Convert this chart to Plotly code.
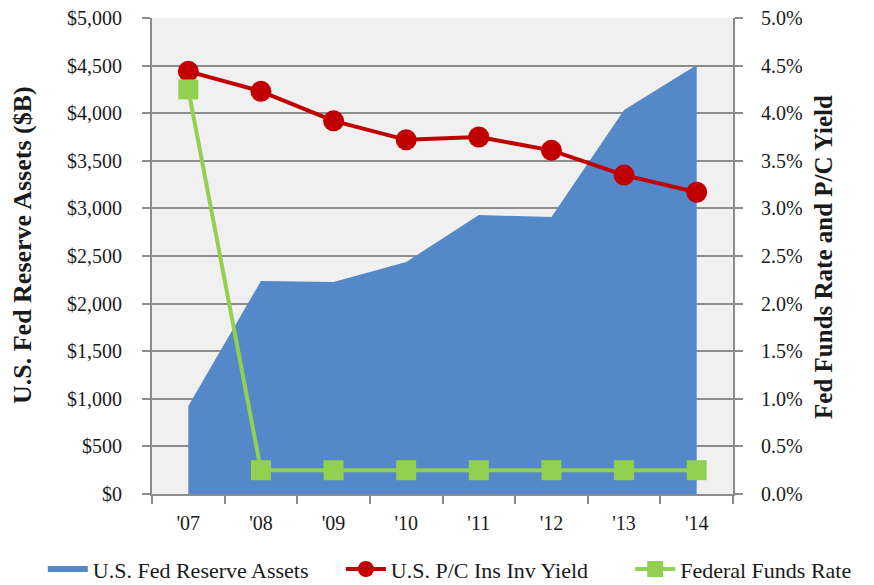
import plotly.graph_objects as go

years = ["'07", "'08", "'09", "'10", "'11", "'12", "'13", "'14"]
fed_assets = [924, 2237, 2227, 2437, 2930, 2910, 4034, 4506]
pc_yield = [4.44, 4.23, 3.92, 3.72, 3.75, 3.61, 3.35, 3.17]
fed_funds = [4.25, 0.25, 0.25, 0.25, 0.25, 0.25, 0.25, 0.25]

left_ticks = list(range(0, 5001, 500))
left_labels = ["$0"] + ["${:,}".format(v) for v in left_ticks[1:]]
right_ticks = [i * 0.5 for i in range(11)]
right_labels = ["{:.1f}%".format(v) for v in right_ticks]

font = "Liberation Serif, Times New Roman, serif"

fig = go.Figure()
fig.add_trace(go.Scatter(
    x=years, y=fed_assets, name="U.S. Fed Reserve Assets",
    mode="none", fill="tozeroy", fillcolor="#5588C9",
    line=dict(color="#5588C9"), legend="legend",
))
fig.add_trace(go.Scatter(
    x=years, y=pc_yield, name="U.S. P/C Ins Inv Yield", yaxis="y2",
    mode="lines+markers", line=dict(color="#C00000", width=4),
    marker=dict(symbol="circle", size=21, color="#C00000"), legend="legend2",
))
fig.add_trace(go.Scatter(
    x=years, y=fed_funds, name="Federal Funds Rate", yaxis="y2",
    mode="lines+markers", line=dict(color="#92D050", width=4),
    marker=dict(symbol="square", size=20, color="#92D050"), legend="legend3",
))

axis_color = "#8C8C8C"


def leg(x):
    return dict(orientation="h", xref="container", yref="paper",
                x=x, xanchor="left", y=-0.158, yanchor="middle",
                font=dict(size=22), itemwidth=40, bgcolor="rgba(0,0,0,0)")


fig.update_layout(
    width=874, height=585,
    margin=dict(l=152, r=141, t=18, b=91, autoexpand=False),
    paper_bgcolor="white", plot_bgcolor="#F0F0F0",
    font=dict(family=font, size=20, color="#1a1a1a"),
    showlegend=True,
    legend=leg(0.049),
    legend2=leg(0.390),
    legend3=leg(0.721),
    xaxis=dict(
        type="category", tickson="boundaries", ticks="outside", ticklen=8,
        tickcolor=axis_color, tickwidth=2, showline=True, linecolor=axis_color, linewidth=2,
        showgrid=False, range=[-0.5, 7.5], tickfont=dict(size=20), ticklabelstandoff=10,
        automargin=False,
    ),
    yaxis=dict(
        range=[0, 5000], tickvals=left_ticks, ticktext=left_labels,
        ticks="outside", ticklen=8, tickcolor=axis_color, tickwidth=2,
        showline=True, linecolor=axis_color, linewidth=2,
        showgrid=True, gridcolor=axis_color, gridwidth=2, zeroline=False,
        tickfont=dict(size=20), ticklabelstandoff=16, automargin=False,
    ),
    yaxis2=dict(
        range=[0, 5.0], tickvals=right_ticks, ticktext=right_labels, overlaying="y", side="right",
        ticks="outside", ticklen=8, tickcolor=axis_color, tickwidth=2,
        showline=True, linecolor=axis_color, linewidth=2, showgrid=False, zeroline=False,
        tickfont=dict(size=20), ticklabelstandoff=14, automargin=False,
    ),
    annotations=[
        dict(text="<b>U.S. Fed Reserve Assets ($B)</b>", xref="paper", yref="paper",
             x=-0.2238, y=0.523, textangle=-90, showarrow=False,
             xanchor="center", yanchor="middle", font=dict(size=26)),
        dict(text="<b>Fed Funds Rate and P/C Yield</b>", xref="paper", yref="paper",
             x=1.1566, y=0.498, textangle=-90, showarrow=False,
             xanchor="center", yanchor="middle", font=dict(size=25)),
    ],
)

fig.write_html("out.html", config={"displayModeBar": False},
               post_script="document.body.style.margin='0';")
